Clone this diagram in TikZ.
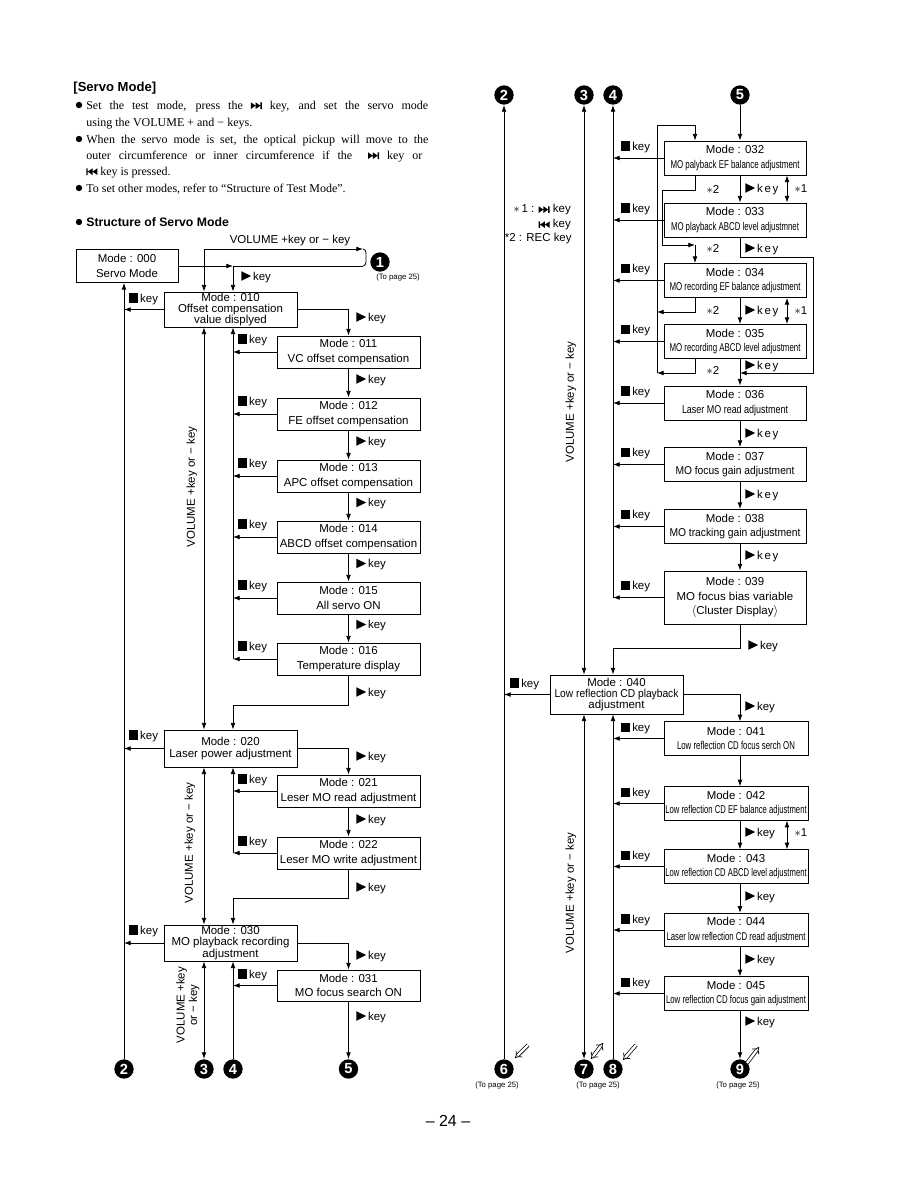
\documentclass[tikz,border=0pt]{standalone}
\usepackage{fontspec}
\setmainfont{Liberation Serif}
\setsansfont{Liberation Sans}
\usetikzlibrary{arrows.meta,calc}

% key symbols
\newcommand{\playkey}{\tikz[baseline=0pt,x=1pt,y=1pt]\fill (0,-0.3)--(0,6.9)--(7.4,3.3)--cycle;}
\newcommand{\stopkey}{\tikz[baseline=0pt,x=1pt,y=1pt]\fill (0,-0.3) rectangle (6.8,6.7);}
\newcommand{\nextkey}{\tikz[baseline=0pt,x=1pt,y=1pt]{\fill (0,0)--(0,5)--(3.6,2.5)--cycle (3.6,0)--(3.6,5)--(7.2,2.5)--cycle (7.2,0) rectangle (8.3,5);}}
\newcommand{\prevkey}{\tikz[baseline=0pt,x=1pt,y=1pt]{\fill (0,0) rectangle (1.1,5) (4.7,0)--(4.7,5)--(1.1,2.5)--cycle (8.3,0)--(8.3,5)--(4.7,2.5)--cycle;}}
\newcommand{\fitw}[2]{\resizebox{#1}{\height}{#2}}
\newcommand{\subf}{\fontsize{8.5}{9}\selectfont}
\newcommand{\skey}{k\kern1.3pt e\kern1.3pt y}

\begin{document}
\begin{tikzpicture}[x=0.75pt, y=-0.75pt, >={Latex[length=5pt,width=3.6pt]},
  line width=0.6pt,
  modebox/.style={draw, line width=0.7pt, align=center, inner sep=0pt,
    font=\sffamily\fontsize{8.6}{10.8}\selectfont},
  smallbox/.style={modebox, minimum width=107.25pt, minimum height=24pt},
  widebox/.style={modebox, minimum width=99.75pt},
  rightbox/.style={modebox, minimum width=106.5pt, minimum height=25.5pt},
  lowbox/.style={modebox, minimum width=108pt, minimum height=25pt},
  tight/.style={font=\sffamily\fontsize{8.6}{8.6}\selectfont},
  keylabel/.style={anchor=west, inner sep=0pt, font=\sffamily\fontsize{8.6}{10}\selectfont},
  marker/.style={circle, fill=black, text=white, inner sep=0pt, minimum size=14.5pt,
    font=\sffamily\bfseries\fontsize{11}{11}\selectfont},
  topage/.style={inner sep=0pt, font=\sffamily\fontsize{5.8}{6}\selectfont},
  vollabel/.style={rotate=90, align=center, inner sep=0pt,
    font=\sffamily\fontsize{8.6}{9.4}\selectfont},
  bodyline/.style={anchor=base west, inner sep=0pt, font=\fontsize{9}{11}\selectfont},
  hollow/.style={double, double distance=1.8pt, line width=0.55pt, -{Implies}},
]
\useasboundingbox (0,0) rectangle (918,1188);

% heading and notes
\node[anchor=base west, inner sep=0pt, font=\sffamily\bfseries\fontsize{9.8}{11}\selectfont]
  (title) at (73,92) {[Servo Mode]};
\foreach \y in {105,139,188,222} \fill (79,\y) circle[radius=2.4pt];
\node[bodyline] (t1) at (86,109)
  {\makebox[256.5pt][s]{Set the test mode, press the \nextkey\ key, and set the servo mode}};
\node[bodyline] (t2) at (86,126) {using the VOLUME + and − keys.};
\node[bodyline] (t3) at (86,143)
  {\makebox[256.5pt][s]{When the servo mode is set, the optical pickup will move to the}};
\node[bodyline] (t4) at (86,159)
  {\makebox[252pt][s]{outer circumference or inner circumference if the \ \nextkey\ key or}};
\node[bodyline] (t5) at (86,175) {\prevkey\ key is pressed.};
\node[bodyline] (t6) at (86,192) {To set other modes, refer to “Structure of Test Mode”.};
\node[anchor=base west, inner sep=0pt, font=\sffamily\bfseries\fontsize{9.2}{11}\selectfont]
  (sub) at (86,226) {Structure of Servo Mode};

% circled numbers
\foreach \nm/\x/\y/\d in {n1/380/262/1, n2a/124/1069/2, n3a/204/1069/3, n4a/233/1069/4,
  n5a/348.5/1069/5, n2b/504/95/2, n3b/584/95/3, n4b/613/95/4, n5b/740/95/5,
  n6/504/1069/6, n7/584/1069/7, n8/613/1069/8, n9/740/1069/9}
  \node[marker] (\nm) at (\x,\y) {\d};
\node[topage] at (398,277) {(To page 25)};
\node[topage] at (497,1085) {(To page 25)};
\node[topage] at (598,1085) {(To page 25)};
\node[topage] at (738,1085) {(To page 25)};
\draw[hollow] ($(n6)+(24,-24)$) -- ($(n6)+(11,-11)$);
\draw[hollow, {Implies}-{Implies}] ($(n7)+(7,-10)$) -- ($(n7)+(19,-26)$);
\draw[hollow] ($(n8)+(23,-24)$) -- ($(n8)+(10,-9)$);
\draw[hollow] ($(n9)+(7,-6)$) -- ($(n9)+(19,-22)$);

% vertical rails
\coordinate (cL) at (124,0);
\coordinate (cV) at (204,0);
\coordinate (cK) at (233,0);
\coordinate (dA) at (657,0);
\coordinate (dB) at (662,0);
\coordinate (dC) at (695,0);
\coordinate (dS) at (787,0);
\coordinate (dR) at (813,0);

% ---------------- left column ----------------
\node[modebox, minimum width=76.5pt, minimum height=24.75pt] (m000) at (127,266) {Mode : 000\\Servo Mode};
\node[widebox, tight, minimum height=26.25pt] (m010) at (230.5,309.5)
  {Mode : 010\\Offset compensation\\value displyed};
\foreach \n/\y/\txt in {011/352/VC offset compensation, 012/414/FE offset compensation,
  013/476/APC offset compensation, 014/537/ABCD offset compensation,
  015/598/All servo ON, 016/659/Temperature display}
  \node[smallbox] (m\n) at (348.5,\y) {Mode : \n\\\txt};
\node[widebox, minimum height=27.75pt, font=\sffamily\fontsize{8.6}{9}\selectfont]
  (m020) at (230.5,748.5) {Mode : 020\\Laser power adjustment};
\node[smallbox] (m021) at (348.5,791) {Mode : 021\\Leser MO read adjustment};
\node[smallbox] (m022) at (348.5,853) {Mode : 022\\Leser MO write adjustment};
\node[widebox, tight, minimum height=27pt] (m030) at (230.5,943)
  {Mode : 030\\MO playback recording\\adjustment};
\node[smallbox, minimum height=23.25pt] (m031) at (348.5,985.5) {Mode : 031\\MO focus search ON};

% 000 <-> 010 and page 25
\coordinate (brT) at (363,249);
\coordinate (brB) at (363,266);
\coordinate (jn) at (233,266);
\node[font=\sffamily\fontsize{8.6}{10}\selectfont, inner sep=0pt] at (290,241) {VOLUME +key or − key};
\draw[<->] (m010.north -| cV) |- (brT);
\draw (brT) to[out=0,in=90] (366,253) -- (366,262) to[out=-90,in=0] (brB);
\draw (brB) -- (jn);
\draw[->] (m000.east) -- (jn);
\draw[->] (jn) -- (m010.north -| jn);
\node[keylabel] at (241,277) {\playkey\,key};
\draw[->] (m010.west) -- (m010.west -| cL);
\node[keylabel] at (129,299) {\stopkey\,key};
\draw[->] (n2a.north) -- (m000.south -| cL);

% 010 group
\draw[->] (m010.east) -| (m011.north);
\node[keylabel] at (356,318) {\playkey\,key};
\foreach \a/\b in {011/012,012/013,013/014,014/015,015/016} {
  \draw[->] (m\a.south) -- (m\b.north);
  \node[keylabel] at ($(m\a.south)!0.5!(m\b.north)+(7.5,-3)$) {\playkey\,key};
}
\foreach \n in {011,012,013,014,015,016} {
  \draw[->] (m\n.west) -- (m\n.west -| cK);
  \node[keylabel] at ($(m\n.west -| cK)+(5,-12)$) {\stopkey\,key};
}
\draw[->] (m016.west -| cK) -- (m010.south -| cK);
\draw[<->] (m010.south -| cV) -- (m020.north -| cV);
\node[vollabel] at (192,487) {VOLUME +key or − key};
\draw[->] (m016.south) -- ++(0,30) -| (m020.north -| cK);
\node[keylabel] at (356,693) {\playkey\,key};

% 020 group
\draw[->] (m020.west) -- (m020.west -| cL);
\node[keylabel] at (129,736) {\stopkey\,key};
\draw[->] (m020.east) -| (m021.north);
\node[keylabel] at (356,757) {\playkey\,key};
\draw[->] (m021.south) -- (m022.north);
\node[keylabel] at (356,820) {\playkey\,key};
\foreach \n in {021,022} {
  \draw[->] (m\n.west) -- (m\n.west -| cK);
  \node[keylabel] at ($(m\n.west -| cK)+(5,-11)$) {\stopkey\,key};
}
\draw[->] (m022.west -| cK) -- (m020.south -| cK);
\draw[<->] (m020.south -| cV) -- (m030.north -| cV);
\node[vollabel] at (190,843) {VOLUME +key or − key};
\draw[->] (m022.south) -- ++(0,29) -| (m030.north -| cK);
\node[keylabel] at (356,888) {\playkey\,key};

% 030 group
\draw[->] (m030.west) -- (m030.west -| cL);
\node[keylabel] at (129,931) {\stopkey\,key};
\draw[->] (m030.east) -| (m031.north);
\node[keylabel] at (356,956) {\playkey\,key};
\draw[->] (m031.west) -- (m031.west -| cK);
\node[keylabel] at (238,975) {\stopkey\,key};
\draw[->] (n4a.north) -- (m030.south -| cK);
\draw[<->] (m030.south -| cV) -- (n3a.north);
\node[vollabel] at (188,1005) {VOLUME +key\\or − key};
\draw[->] (m031.south) -- (n5a.north);
\node[keylabel] at (356,1017) {\playkey\,key};

% ---------------- right column ----------------
\node[anchor=east, inner sep=0pt, font=\sffamily\fontsize{8.6}{10}\selectfont] at (571,210) {$\ast$\,1 : \nextkey\ key};
\node[anchor=east, inner sep=0pt, font=\sffamily\fontsize{8.6}{10}\selectfont] at (571,225) {\prevkey\ key};
\node[anchor=east, inner sep=0pt, font=\sffamily\fontsize{8.6}{10}\selectfont] at (572,239) {*2 : REC key};

\foreach \n/\y/\tw/\txt in {032/158/96.75/MO palyback EF balance adjustment,
  033/220/96/MO playback ABCD level adjustmnet,
  034/280.5/98.25/MO recording EF balance adjustment,
  035/341.5/98.25/MO recording ABCD level adjustment,
  036/403/79.5/Laser MO read adjustment,
  037/464.5/89.25/MO focus gain adjustment,
  038/526.5/98.25/MO tracking gain adjustment}
  \node[rightbox] (m\n) at (735,\y) {Mode : \n\\\fitw{\tw pt}{\subf\txt}};
\node[rightbox, minimum height=39.75pt] (m039) at (735,597.5)
  {Mode : 039\\MO focus bias variable\\$\langle$Cluster Display$\rangle$};
\node[widebox, tight, minimum height=29.25pt] (m040) at (616.5,694.5)
  {Mode : 040\\\fitw{93pt}{Low reflection CD playback}\\adjustment};
\foreach \n/\y/\tw/\txt in {041/738.5/88.5/Low reflection CD focus serch ON,
  042/803.5/106/Low reflection CD EF balance adjustment,
  043/866.5/106/Low reflection CD ABCD level adjustment,
  044/930/104.25/Laser low reflection CD read adjustment,
  045/993.5/105/Low reflection CD focus gain adjustment}
  \node[lowbox] (m\n) at (736,\y) {Mode : \n\\\fitw{\tw pt}{\subf\txt}};

% rails to the top numbers
\draw[->] (n6.north) -- (n2b.south);
\draw[<->] (m040.north -| n3b) -- (n3b.south);
\node[vollabel] at (571,402) {VOLUME +key or − key};
\draw[->] (m039.west -| n4b) -- (n4b.south);
\draw[->] (n5b.south) -- (m032.north -| n5b);

% stop keys 032..039
\foreach \n in {032,033,034,035,036,037,038,039} {
  \draw[->] (m\n.west) -- (m\n.west -| n4b);
  \node[keylabel] at ($(m\n.west -| n4b)+(8,-11)$) {\stopkey\,key};
}
% play keys 032..039
\foreach \a/\b/\ly in {032/033/189, 034/035/311, 035/036/366, 036/037/434, 037/038/495, 038/039/556} {
  \draw[->] (m\a.south -| n5b) -- (m\b.north -| n5b);
  \node[keylabel] at (745,\ly) {\playkey\,\skey};
}
\foreach \a/\b/\ly in {032/033/189, 034/035/311, 042/043/833} {
  \draw[<->] (m\a.south -| dS) -- (m\b.north -| dS);
  \node[inner sep=0pt, font=\sffamily\fontsize{8.6}{10}\selectfont] at (801,\ly) {$\ast$1};
}

% REC key loops
\coordinate (s2in) at (695,245);
\coordinate (s2a) at (657,312);
\coordinate (s2b) at (657,373);
\coordinate (s2top) at (695,125);
\draw[->] (m032.south -| dC) -- ++(0,15) -| (dB |- s2in) -- (s2in);
\draw[->] (s2in) -- (m034.north -| s2in);
\draw[->] (m034.south -| dC) |- (s2a);
\draw[->] (m035.south -| dC) |- (s2b);
\draw[->] (s2b) |- (s2top) -- (m032.north -| s2top);
\foreach \ly in {189,248,310,370}
  \node[inner sep=0pt, font=\sffamily\fontsize{8.6}{10}\selectfont] at (713,\ly) {$\ast$2};

% 033 play key round to 036
\coordinate (byp) at (740,373);
\draw[->] (m033.south -| n5b) -- ++(0,20) -| (dR |- byp) -- (byp);
\node[keylabel] at (745,249) {\playkey\,\skey};

% 039 -> 040
\draw[->] (m039.south -| n5b) -- ++(0,24) -| (m040.north -| n4b);
\node[keylabel] at (748,646) {\playkey\,key};

% 040 group
\draw[->] (m040.west) -- (m040.west -| n6);
\node[keylabel] at (510,684) {\stopkey\,key};
\draw[->] (m040.east) -| (m041.north -| n5b);
\node[keylabel] at (745,707) {\playkey\,key};
\draw[->] (m041.south -| n5b) -- (m042.north -| n5b);
\foreach \a/\b/\ly in {042/043/833, 043/044/897, 044/045/960} {
  \draw[->] (m\a.south -| n5b) -- (m\b.north -| n5b);
  \node[keylabel] at (745,\ly) {\playkey\,key};
}
\draw[->] (m045.south -| n5b) -- (n9.north);
\node[keylabel] at (745,1022) {\playkey\,key};
\foreach \n in {041,042,043,044,045} {
  \draw[->] (m\n.west) -- (m\n.west -| n8);
  \node[keylabel] at ($(m\n.west -| n8)+(8,-10)$) {\stopkey\,key};
}
\draw[->] (n8.north) -- (m040.south -| n8);
\draw[<->] (m040.south -| n7) -- (n7.north);
\node[vollabel] at (571,893) {VOLUME +key or − key};

% page number
\node[font=\sffamily\fontsize{12}{12}\selectfont] at (448,1121) {– 24 –};
\end{tikzpicture}
\end{document}
